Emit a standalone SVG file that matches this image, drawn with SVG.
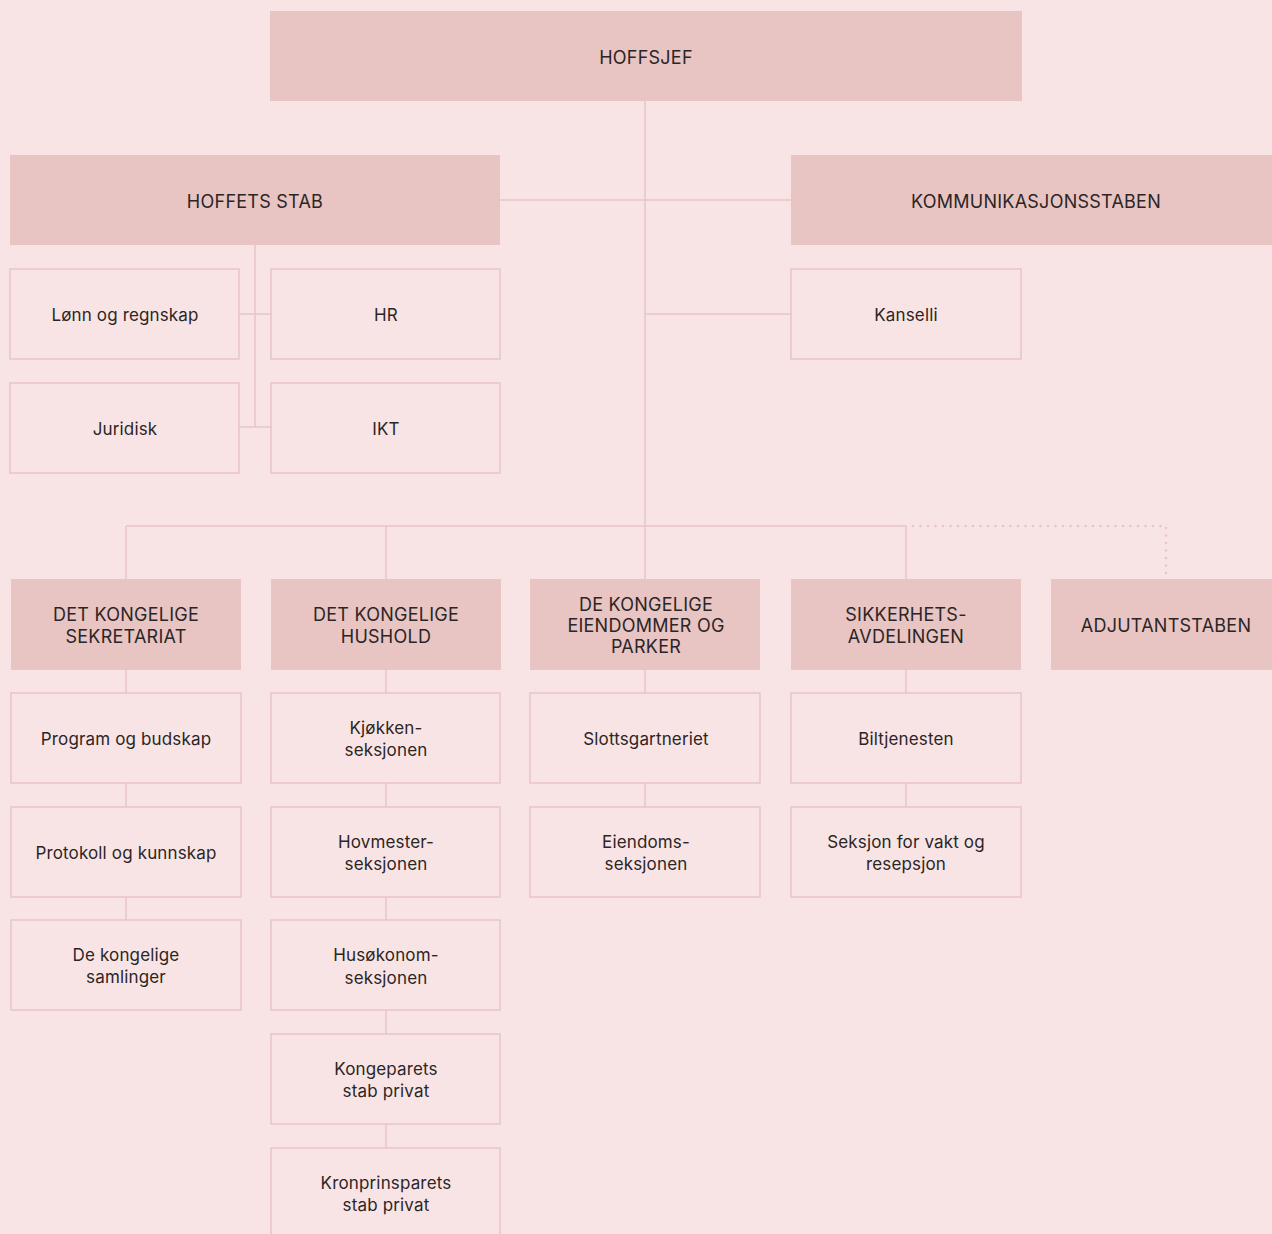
<svg xmlns="http://www.w3.org/2000/svg" width="1272" height="1234" viewBox="0 0 1272 1234">
<style>
.bg{fill:#f9e4e5}
.h{fill:#e8c4c3}
.b{fill:#f9e4e5;stroke:#e8c4c3;stroke-width:1.5}
.c{stroke:#e8c4c3;stroke-width:1.5;fill:none}
.d{stroke:#e8c4c3;stroke-width:2.5;fill:none;stroke-dasharray:0 7.5;stroke-linecap:round}
text{font-family:Inter,"Liberation Sans",sans-serif;font-size:17px;letter-spacing:0.15px;fill:#2b2626;text-anchor:middle;dominant-baseline:central}
text.u{font-size:18px;letter-spacing:0.25px}
</style>
<rect class="bg" x="0" y="0" width="1272" height="1234"/>
<g id="connectors">
<line class="c" x1="645" y1="101" x2="645" y2="526"/>
<line class="c" x1="500" y1="200" x2="791" y2="200"/>
<line class="c" x1="645" y1="314" x2="791" y2="314"/>
<line class="c" x1="255" y1="245" x2="255" y2="427"/>
<line class="c" x1="239" y1="314" x2="271" y2="314"/>
<line class="c" x1="239" y1="427" x2="271" y2="427"/>
<line class="c" x1="126" y1="526" x2="906" y2="526"/>
<line class="c" x1="126" y1="526" x2="126" y2="579"/>
<line class="c" x1="386" y1="526" x2="386" y2="579"/>
<line class="c" x1="645" y1="526" x2="645" y2="579"/>
<line class="c" x1="906" y1="526" x2="906" y2="579"/>
<path class="d" d="M913 526 H1166 V576"/>
<line class="c" x1="126" y1="670" x2="126" y2="693"/>
<line class="c" x1="126" y1="783" x2="126" y2="807"/>
<line class="c" x1="126" y1="897" x2="126" y2="920"/>
<line class="c" x1="386" y1="670" x2="386" y2="693"/>
<line class="c" x1="386" y1="783" x2="386" y2="807"/>
<line class="c" x1="386" y1="897" x2="386" y2="920"/>
<line class="c" x1="386" y1="1010" x2="386" y2="1034"/>
<line class="c" x1="386" y1="1124" x2="386" y2="1148"/>
<line class="c" x1="645" y1="670" x2="645" y2="693"/>
<line class="c" x1="645" y1="783" x2="645" y2="807"/>
<line class="c" x1="906" y1="670" x2="906" y2="693"/>
<line class="c" x1="906" y1="783" x2="906" y2="807"/>
</g>
<g id="hoffsjef"><rect class="h" x="270" y="11" width="752" height="90"/><text class="u" x="646" y="57">HOFFSJEF</text></g>
<g id="hoffets-stab"><rect class="h" x="10" y="155" width="490" height="90"/><text class="u" x="255" y="201">HOFFETS STAB</text></g>
<g id="kommunikasjonsstaben"><rect class="h" x="791" y="155" width="481" height="90"/><text class="u" x="1036" y="201">KOMMUNIKASJONSSTABEN</text></g>
<g id="lonn"><rect class="b" x="10" y="269" width="229" height="90"/><text x="125" y="315">Lønn og regnskap</text></g>
<g id="hr"><rect class="b" x="271" y="269" width="229" height="90"/><text x="386" y="315">HR</text></g>
<g id="juridisk"><rect class="b" x="10" y="383" width="229" height="90"/><text x="125" y="429">Juridisk</text></g>
<g id="ikt"><rect class="b" x="271" y="383" width="229" height="90"/><text x="386" y="429">IKT</text></g>
<g id="kanselli"><rect class="b" x="791" y="269" width="230" height="90"/><text x="906" y="315">Kanselli</text></g>
<g id="sekretariat"><rect class="h" x="11" y="579" width="230" height="91"/><text class="u" x="126" y="614">DET KONGELIGE</text><text class="u" x="126" y="636">SEKRETARIAT</text></g>
<g id="hushold"><rect class="h" x="271" y="579" width="230" height="91"/><text class="u" x="386" y="614">DET KONGELIGE</text><text class="u" x="386" y="636">HUSHOLD</text></g>
<g id="eiendommer"><rect class="h" x="530" y="579" width="230" height="91"/><text class="u" x="646" y="604">DE KONGELIGE</text><text class="u" x="646" y="625">EIENDOMMER OG</text><text class="u" x="646" y="646">PARKER</text></g>
<g id="sikkerhet"><rect class="h" x="791" y="579" width="230" height="91"/><text class="u" x="906" y="614">SIKKERHETS-</text><text class="u" x="906" y="636">AVDELINGEN</text></g>
<g id="adjutantstaben"><rect class="h" x="1051" y="579" width="221" height="91"/><text class="u" x="1166" y="625">ADJUTANTSTABEN</text></g>
<g id="program"><rect class="b" x="11" y="693" width="230" height="90"/><text x="126" y="739">Program og budskap</text></g>
<g id="protokoll"><rect class="b" x="11" y="807" width="230" height="90"/><text x="126" y="853">Protokoll og kunnskap</text></g>
<g id="samlinger"><rect class="b" x="11" y="920" width="230" height="90"/><text x="126" y="955">De kongelige</text><text x="126" y="977">samlinger</text></g>
<g id="kjokken"><rect class="b" x="271" y="693" width="229" height="90"/><text x="386" y="728">Kjøkken-</text><text x="386" y="750">seksjonen</text></g>
<g id="hovmester"><rect class="b" x="271" y="807" width="229" height="90"/><text x="386" y="842">Hovmester-</text><text x="386" y="864">seksjonen</text></g>
<g id="husokonom"><rect class="b" x="271" y="920" width="229" height="90"/><text x="386" y="955">Husøkonom-</text><text x="386" y="978">seksjonen</text></g>
<g id="kongeparets"><rect class="b" x="271" y="1034" width="229" height="90"/><text x="386" y="1069">Kongeparets</text><text x="386" y="1091">stab privat</text></g>
<g id="kronprinsparets"><rect class="b" x="271" y="1148" width="229" height="90"/><text x="386" y="1183">Kronprinsparets</text><text x="386" y="1205">stab privat</text></g>
<g id="slottsgartneriet"><rect class="b" x="530" y="693" width="230" height="90"/><text x="646" y="739">Slottsgartneriet</text></g>
<g id="eiendoms"><rect class="b" x="530" y="807" width="230" height="90"/><text x="646" y="842">Eiendoms-</text><text x="646" y="864">seksjonen</text></g>
<g id="biltjenesten"><rect class="b" x="791" y="693" width="230" height="90"/><text x="906" y="739">Biltjenesten</text></g>
<g id="vakt"><rect class="b" x="791" y="807" width="230" height="90"/><text x="906" y="842">Seksjon for vakt og</text><text x="906" y="864">resepsjon</text></g>
</svg>
